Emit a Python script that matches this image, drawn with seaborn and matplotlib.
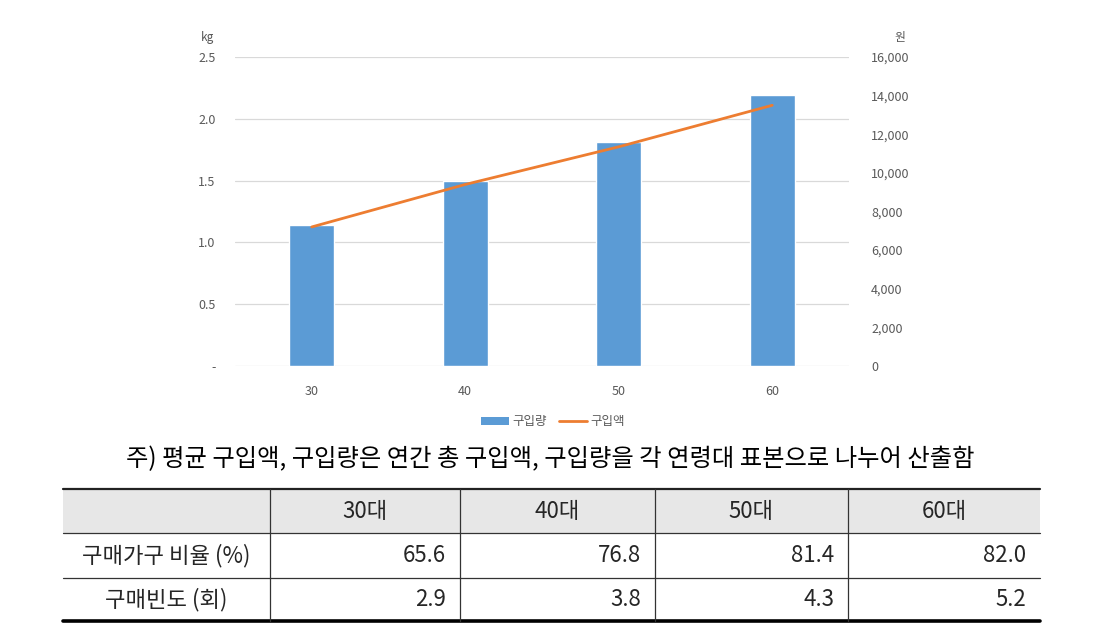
import matplotlib
matplotlib.use("Agg")
import matplotlib.pyplot as plt
import seaborn as sns
import pandas as pd
from matplotlib.ticker import FuncFormatter, MultipleLocator
from matplotlib.patches import Patch, Rectangle
from matplotlib.lines import Line2D

# ------------------------------------------------------
# Data
# ------------------------------------------------------
ages = ["30", "40", "50", "60"]
qty_kg = [1.14, 1.50, 1.81, 2.19]          # 구입량 (kg), bars
amount_won = [7200, 9400, 11350, 13500]    # 구입액 (원), line

table_header = ["30대", "40대", "50대", "60대"]
row_labels = ["구매가구 비율 (%)", "구매빈도 (회)"]
ratio_pct = [65.6, 76.8, 81.4, 82.0]
freq_times = [2.9, 3.8, 4.3, 5.2]

note = "주) 평균 구입액, 구입량은 연간 총 구입액, 구입량을 각 연령대 표본으로 나누어 산출함"

df = pd.DataFrame({"age": ages, "qty": qty_kg, "amount": amount_won})

# ------------------------------------------------------
# Style
# ------------------------------------------------------
sns.set_theme(style="white")
plt.rcParams["font.family"] = ["Noto Sans CJK KR", "DejaVu Sans"]

W, H = 1103, 635
BAR_C = "#5b9bd5"
LINE_C = "#ed7d31"
TXT_C = "#595959"
GRID_C = "#d9d9d9"

fig = plt.figure(figsize=(W / 100, H / 100), dpi=100)

# chart area in pixels: x 235..849, y 57..366
ax = fig.add_axes([235 / W, 1 - 366 / H, (849 - 235) / W, (366 - 57) / H])

sns.barplot(data=df, x="age", y="qty", color=BAR_C, width=0.29,
            saturation=1, ax=ax, zorder=2)
ax.set_xlim(-0.5, len(ages) - 0.5)
ax.set_ylim(0, 2.5)
ax.yaxis.set_major_locator(MultipleLocator(0.5))
ax.yaxis.set_major_formatter(FuncFormatter(lambda v, p: "-" if v == 0 else f"{v:.1f}"))
ax.grid(axis="y", color=GRID_C, lw=0.9, zorder=0)
ax.set_axisbelow(True)
ax.set_xlabel("")
ax.set_ylabel("")
for s in ax.spines.values():
    s.set_visible(False)
ax.tick_params(axis="both", length=0, labelsize=9, colors=TXT_C)
ax.tick_params(axis="y", pad=14)
ax.tick_params(axis="x", pad=14)

ax2 = ax.twinx()
sns.lineplot(x=list(range(len(ages))), y=amount_won, color=LINE_C, lw=2, ax=ax2, zorder=3)
ax2.set_ylim(0, 16000)
ax2.yaxis.set_major_locator(MultipleLocator(2000))
ax2.yaxis.set_major_formatter(FuncFormatter(lambda v, p: f"{int(v):,}"))
for s in ax2.spines.values():
    s.set_visible(False)
ax2.tick_params(axis="y", length=0, labelsize=9, colors=TXT_C, pad=16)
ax2.grid(False)

fig.text(207 / W, 1 - 38 / H, "kg", fontsize=8.5, color=TXT_C, ha="center", va="center")
fig.text(900 / W, 1 - 38 / H, "원", fontsize=8.5, color=TXT_C, ha="center", va="center")

handles = [Patch(facecolor=BAR_C, edgecolor="none"),
           Line2D([0], [0], color=LINE_C, lw=2)]
fig.legend(handles, ["구입량", "구입액"], loc="center", bbox_to_anchor=(553 / W, 1 - 422 / H),
           ncol=2, frameon=False, fontsize=9, labelcolor=TXT_C,
           handlelength=2.2, handleheight=0.6, columnspacing=1.0, handletextpad=0.3)

# ------------------------------------------------------
# Note + table (pixel coordinates overlay)
# ------------------------------------------------------
tab = fig.add_axes([0, 0, 1, 1])
tab.set_xlim(0, W)
tab.set_ylim(H, 0)
tab.axis("off")
tab.patch.set_alpha(0)

tab.text(550, 459, note, fontsize=17.5, ha="center", va="center", color="black")

col_x = [63, 270, 460, 655, 848, 1040]
row_y = [489, 533, 578, 621]

tab.add_patch(Rectangle((col_x[0], row_y[0]), col_x[-1] - col_x[0], row_y[1] - row_y[0],
                        facecolor="#e7e7e7", edgecolor="none"))
tab.plot([col_x[0], col_x[-1]], [row_y[0], row_y[0]], color="#222222", lw=1.6)
tab.plot([col_x[0], col_x[-1]], [row_y[1], row_y[1]], color="#333333", lw=0.9)
tab.plot([col_x[0], col_x[-1]], [row_y[2], row_y[2]], color="#333333", lw=0.9)
tab.plot([col_x[0], col_x[-1]], [row_y[3], row_y[3]], color="black", lw=2.6)
for x in col_x[1:-1]:
    tab.plot([x, x], [row_y[0], row_y[3]], color="#333333", lw=0.9)

for i, h in enumerate(table_header):
    tab.text((col_x[i + 1] + col_x[i + 2]) / 2, (row_y[0] + row_y[1]) / 2, h,
             fontsize=16, ha="center", va="center")

for r, (label, vals) in enumerate(zip(row_labels, [ratio_pct, freq_times])):
    yc = (row_y[r + 1] + row_y[r + 2]) / 2
    tab.text((col_x[0] + col_x[1]) / 2, yc, label, fontsize=16, ha="center", va="center")
    for i, v in enumerate(vals):
        tab.text(col_x[i + 2] - 14, yc, f"{v:.1f}", fontsize=16, ha="right", va="center")

fig.savefig("out.png", dpi=100)
